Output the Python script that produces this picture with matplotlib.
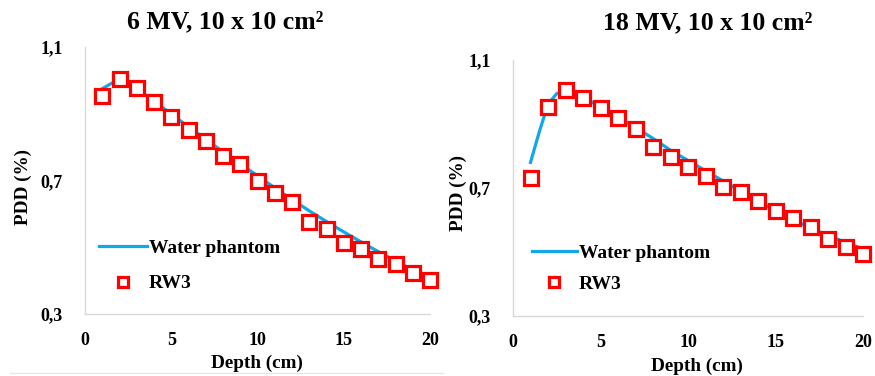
import matplotlib
matplotlib.use("Agg")
import matplotlib.pyplot as plt
from matplotlib.lines import Line2D

plt.rcParams['font.family'] = ['Liberation Serif', 'DejaVu Serif']
plt.rcParams['font.weight'] = 'bold'

# ---- data ----
depth = list(range(1, 21))

# 6 MV
water6_depth = list(range(1, 21))
water6 = [0.975, 1.005, 0.975, 0.938, 0.899, 0.861, 0.823, 0.786, 0.750, 0.714,
          0.678, 0.643, 0.609, 0.577, 0.546, 0.516, 0.487, 0.459, 0.432, 0.405]
rw3_6 = [0.952, 1.003, 0.976, 0.935, 0.890, 0.850, 0.817, 0.773, 0.748, 0.698,
         0.663, 0.635, 0.576, 0.554, 0.514, 0.496, 0.464, 0.449, 0.424, 0.401]

# 18 MV
water18_depth = [1, 1.5, 2, 2.5, 3, 3.5, 4, 5, 6, 7, 8, 9, 10, 11, 12, 13, 14, 15, 16, 17, 18, 19, 20]
water18 = [0.780, 0.875, 0.962, 0.995, 1.004, 0.996, 0.983, 0.953, 0.921, 0.889,
           0.855, 0.818, 0.786, 0.754, 0.722, 0.690, 0.659, 0.629, 0.601, 0.575,
           0.552, 0.530, 0.510]
rw3_18 = [0.730, 0.954, 1.006, 0.980, 0.949, 0.918, 0.883, 0.829, 0.798, 0.767,
          0.738, 0.702, 0.687, 0.658, 0.629, 0.605, 0.579, 0.540, 0.517, 0.494]

titles = ["6 MV, 10 x 10 cm²", "18 MV, 10 x 10 cm²"]
xticks = [0, 5, 10, 15, 20]
yticks = [0.3, 0.7, 1.1]
ytick_labels = ["0,3", "0,7", "1,1"]
legend_labels = ["Water phantom", "RW3"]

LINE_C = "#11A7E8"
MARK_C = "#FF0000"
SPINE_C = "#D9D9D9"

W, H = 875, 376
fig = plt.figure(figsize=(W / 100, H / 100), dpi=100)


def px_axes(x0, y0, x1, y1):
    return fig.add_axes([x0 / W, 1 - y1 / H, (x1 - x0) / W, (y1 - y0) / H])


panels = [
    dict(box=(85, 47, 430, 314), wd=water6_depth, w=water6, r=rw3_6,
         title_xy=(225, 22), xlab_xy=(257, 363), ylab_xy=(23, 187),
         leg_xy=(99, 239), hl=2.45, ls=0.94),
    dict(box=(513, 60, 863, 316), wd=water18_depth, w=water18, r=rw3_18,
         title_xy=(708, 23), xlab_xy=(697, 366), ylab_xy=(458, 193),
         leg_xy=(532, 244), hl=2.3, ls=0.69),
]

for p, title in zip(panels, titles):
    ax = px_axes(*p["box"])
    ax.plot(p["wd"], p["w"], color=LINE_C, lw=2.3, zorder=2, clip_on=False)
    ax.plot(depth, p["r"], ls="none", marker="s", ms=10, mfc="white",
            mec=MARK_C, mew=2.3, zorder=3, clip_on=False)
    ax.set_xlim(0, 20)
    ax.set_ylim(0.3, 1.1)
    ax.set_xticks(xticks)
    ax.set_xticklabels([str(t) for t in xticks])
    ax.set_yticks(yticks)
    ax.set_yticklabels(ytick_labels)
    ax.tick_params(length=0, labelsize=13)
    ax.tick_params(axis="x", pad=13)
    ax.tick_params(axis="y", pad=16)
    for lab in ax.get_xticklabels() + ax.get_yticklabels():
        lab.set_fontweight("bold")
    for s in ["top", "right"]:
        ax.spines[s].set_visible(False)
    for s in ["left", "bottom"]:
        ax.spines[s].set_color(SPINE_C)
        ax.spines[s].set_linewidth(1.0)

    fig.text(p["title_xy"][0] / W, 1 - p["title_xy"][1] / H, title,
             ha="center", va="center", fontsize=18.5, fontweight="bold")
    fig.text(p["xlab_xy"][0] / W, 1 - p["xlab_xy"][1] / H, "Depth (cm)",
             ha="center", va="center", fontsize=13.8, fontweight="bold")
    fig.text(p["ylab_xy"][0] / W, 1 - p["ylab_xy"][1] / H, "PDD (%)",
             ha="center", va="center", fontsize=13.8, fontweight="bold",
             rotation=90)

    handles = [Line2D([], [], color=LINE_C, lw=2.3),
               Line2D([], [], ls="none", marker="s", ms=7, mfc="white",
                      mec=MARK_C, mew=2.3)]
    fig.legend(handles, legend_labels, loc="upper left",
               bbox_to_anchor=(p["leg_xy"][0] / W, 1 - p["leg_xy"][1] / H),
               frameon=False, prop=dict(weight="bold", size=14),
               handlelength=p["hl"], handletextpad=0.1, labelspacing=p["ls"],
               borderpad=0, borderaxespad=0)

# faint bottom border under left panel
fig.add_artist(Line2D([10 / W, 443 / W], [1 - 373 / H, 1 - 373 / H],
                      color="#E6E6E6", lw=1.0))

fig.savefig("out.png", dpi=100)
